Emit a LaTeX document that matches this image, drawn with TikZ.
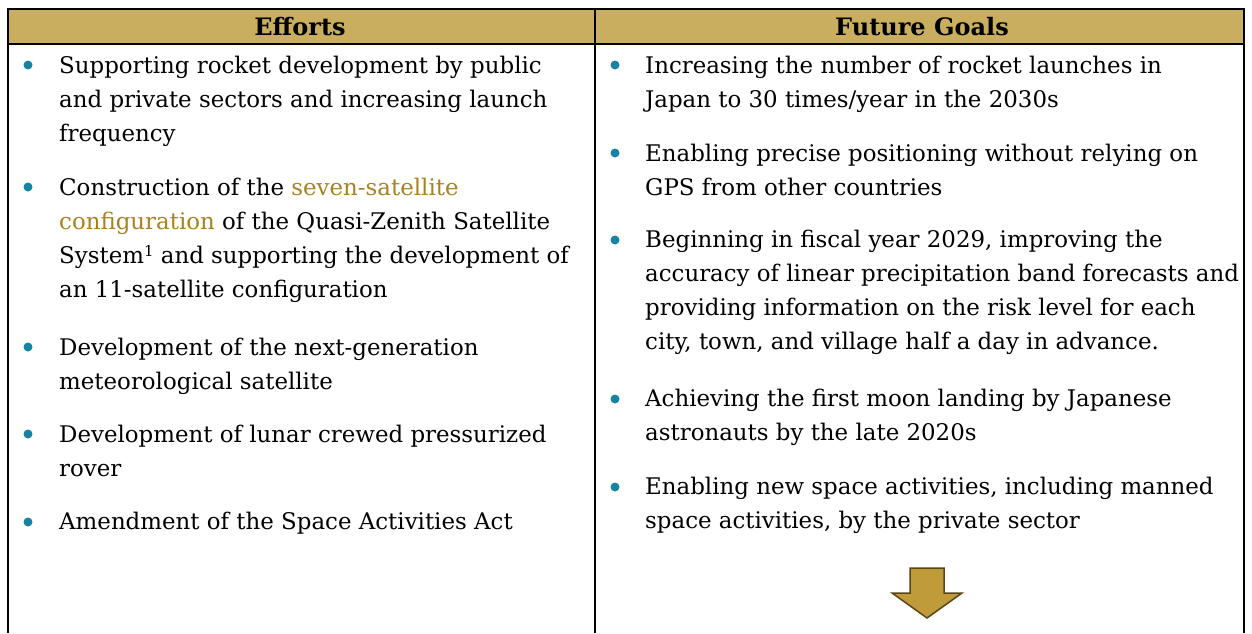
\documentclass[tikz,border=0pt]{standalone}
\usepackage{fontspec}
\setmainfont{DejaVu Serif}
\usetikzlibrary{positioning}

\definecolor{headgold}{RGB}{201,174,96}
\definecolor{bullteal}{RGB}{24,132,164}
\definecolor{linkgold}{RGB}{168,130,34}
\definecolor{arrowfill}{RGB}{192,155,58}
\definecolor{arrowdraw}{RGB}{88,70,24}

\begin{document}
\begin{tikzpicture}
	% Styles
	[
	x=1pt,y=-1pt,
	item/.style={anchor=base west,align=left,inner sep=0pt,font=\fontsize{22.9}{34}\selectfont},
	bullet/.style={circle,fill=bullteal,inner sep=0pt,minimum size=9pt},
	head/.style={inner sep=0pt,font=\fontsize{24}{26}\selectfont\bfseries},
	rule/.style={draw=black,line width=2.2pt},
	]
	\useasboundingbox (0,0) rectangle (1252,633);

	% Table
	\fill[headgold] (8,9) rectangle (1244,44);
	\draw[rule] (8,633) -- (8,9) -- (1244,9) -- (1244,633);
	\draw[rule,line width=1.8pt] (8,44) -- (1244,44);
	\draw[rule,line width=1.8pt] (595,9) -- (595,633);

	% Headers
	\node at (300,27)	(hEff)	[head]	{Efforts};
	\node at (922,27)	(hGoal)	[head]	{Future Goals};

	% Efforts (anchored at the last line)
	\node at (28,65)	(be1)	[bullet]	{};
	\node at (28,187)	(be2)	[bullet]	{};
	\node at (28,347)	(be3)	[bullet]	{};
	\node at (28,434)	(be4)	[bullet]	{};
	\node at (28,522)	(be5)	[bullet]	{};
	\node at (59,141)	(e1)	[item]	{Supporting rocket development by public\\and private sectors and increasing launch\\frequency};
	\node at (59,297)	(e2)	[item]	{Construction of the \textcolor{linkgold}{seven-satellite}\\\textcolor{linkgold}{configuration} of the Quasi-Zenith Satellite\\System\raisebox{0.3em}{\fontsize{15}{15}\selectfont 1} and supporting the development of\\an 11-satellite configuration};
	\node at (59,389)	(e3)	[item]	{Development of the next-generation\\meteorological satellite};
	\node at (59,476)	(e4)	[item]	{Development of lunar crewed pressurized\\rover};
	\node at (59,529)	(e5)	[item]	{Amendment of the Space Activities Act};

	% Future goals (anchored at the last line)
	\node at (615,65)	(bg1)	[bullet]	{};
	\node at (615,153)	(bg2)	[bullet]	{};
	\node at (615,240)	(bg3)	[bullet]	{};
	\node at (615,399)	(bg4)	[bullet]	{};
	\node at (615,487)	(bg5)	[bullet]	{};
	\node at (645,107)	(g1)	[item]	{Increasing the number of rocket launches in\\Japan to 30 times/year in the 2030s};
	\node at (645,195)	(g2)	[item]	{Enabling precise positioning without relying on\\GPS from other countries};
	\node at (645,349)	(g3)	[item]	{Beginning in fiscal year 2029, improving the\\accuracy of linear precipitation band forecasts and\\providing information on the risk level for each\\city, town, and village half a day in advance.};
	\node at (645,440)	(g4)	[item]	{Achieving the first moon landing by Japanese\\astronauts by the late 2020s};
	\node at (645,528)	(g5)	[item]	{Enabling new space activities, including manned\\space activities, by the private sector};

	% Arrow
	\draw[fill=arrowfill,draw=arrowdraw,line width=1.5pt,line join=miter]
		(910,568) -- (944,568) -- (944,593) -- (962,593) -- (927,618) -- (892,593) -- (910,593) -- cycle;
\end{tikzpicture}
\end{document}
